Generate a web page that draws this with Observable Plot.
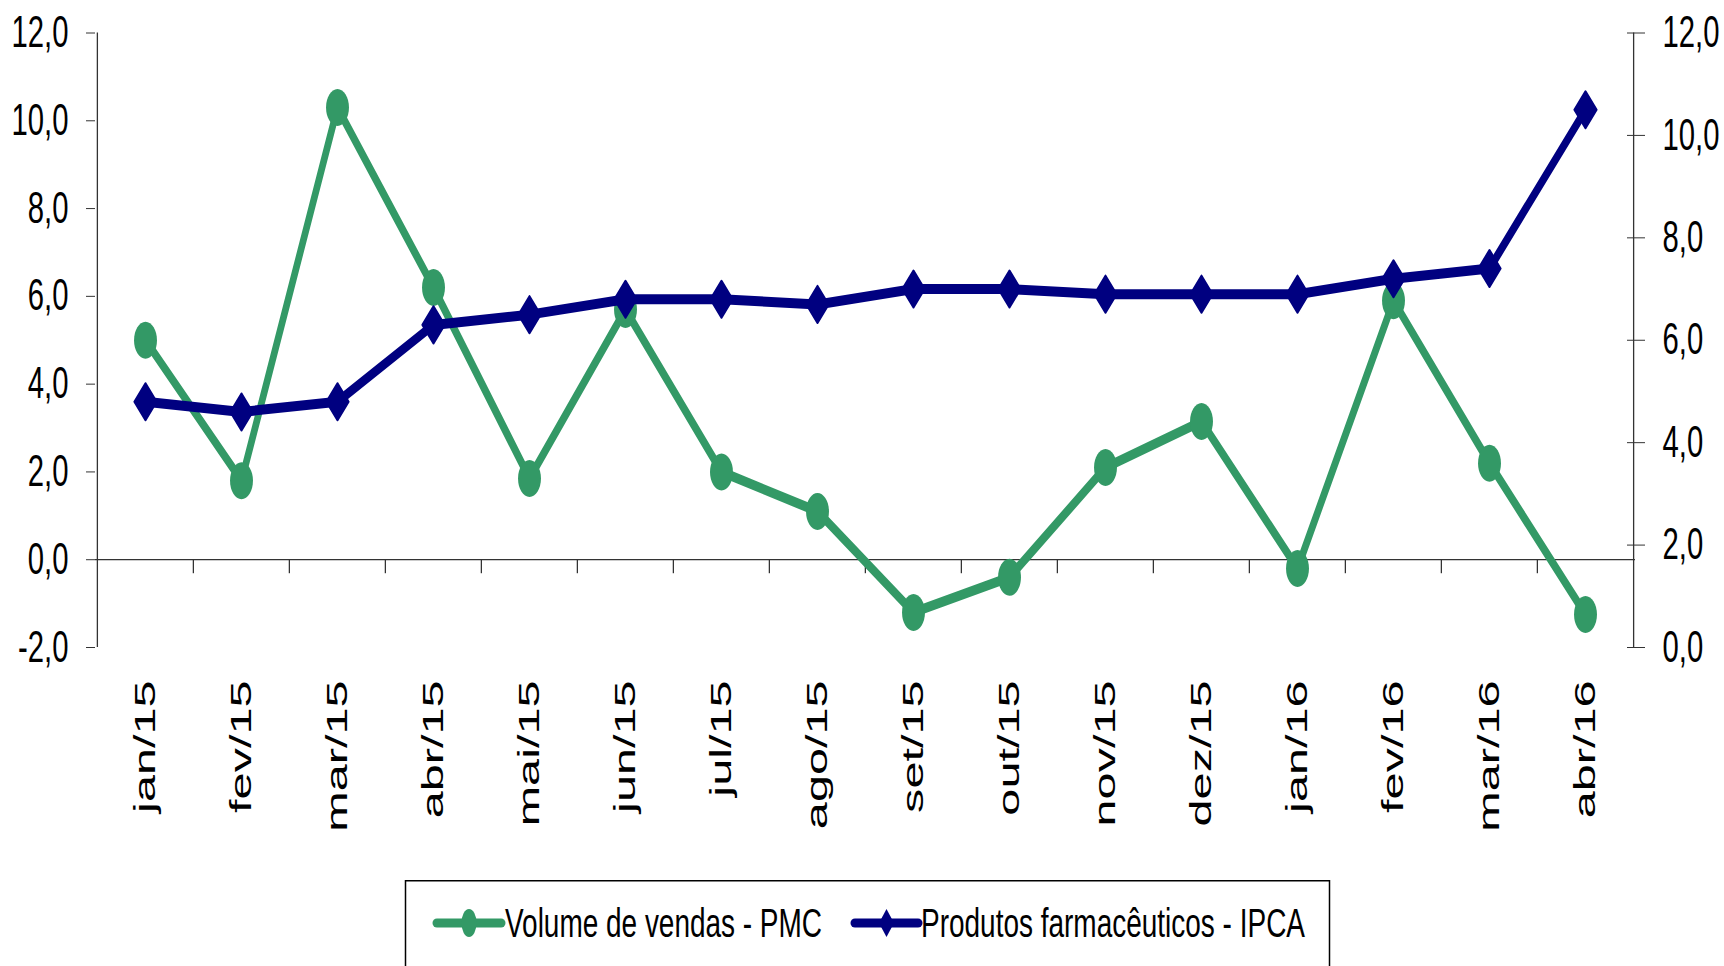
<!DOCTYPE html>
<html><head><meta charset="utf-8">
<script src="https://cdn.jsdelivr.net/npm/d3@7"></script>
<script src="https://cdn.jsdelivr.net/npm/@observablehq/plot@0.6"></script>
<style>
html,body{margin:0;padding:0;background:#fff;overflow:hidden;}
#chart svg,#legend svg{display:block;}
</style></head><body>
<div id="chart"></div>
<div id="legend"></div>
<script>
const months = ["jan/15","fev/15","mar/15","abr/15","mai/15","jun/15","jul/15","ago/15","set/15","out/15","nov/15","dez/15","jan/16","fev/16","mar/16","abr/16"];
const pmc  = [5.0, 1.8, 10.3, 6.2, 1.85, 5.7, 2.0, 1.1, -1.2, -0.4, 2.1, 3.15, -0.2, 5.9, 2.2, -1.25];
const ipca = [4.8, 4.6, 4.8, 6.3, 6.5, 6.8, 6.8, 6.7, 7.0, 7.0, 6.9, 6.9, 6.9, 7.2, 7.4, 10.5];
const leftTicks = [-2, 0, 2, 4, 6, 8, 10, 12];
const rightTicks = [0, 2, 4, 6, 8, 10, 12];
const seriesNames = ["Volume de vendas - PMC", "Produtos farmacêuticos - IPCA"];
const seriesColors = ["#339966", "#000080"];

const W = 1724, H = 880, ML = 95, MR = 89, MT = 32.5, MB = 233;
const bw = (W - ML - MR) / months.length;
const L0 = leftTicks[0], L1 = leftTicks[leftTicks.length - 1];
const R0 = rightTicks[0], R1 = rightTicks[rightTicks.length - 1];
const toLeft = v => L0 + (v - R0) * (L1 - L0) / (R1 - R0);
const toRight = v => R0 + (v - L0) * (R1 - R0) / (L1 - L0);
const fmt = v => (Math.round(v * 10) / 10).toFixed(1).replace(".", ",");

const pmcData = months.map((m, i) => ({m, v: pmc[i]}));
const ipcaData = months.map((m, i) => ({m, v: toLeft(ipca[i])}));

const KAP = 0.5523;
const ellipseSym = {draw(ctx, size) {
  const r = Math.sqrt(size / Math.PI), rx = r * 0.62, ry = r;
  ctx.moveTo(rx, 0);
  ctx.bezierCurveTo(rx, ry * KAP, rx * KAP, ry, 0, ry);
  ctx.bezierCurveTo(-rx * KAP, ry, -rx, ry * KAP, -rx, 0);
  ctx.bezierCurveTo(-rx, -ry * KAP, -rx * KAP, -ry, 0, -ry);
  ctx.bezierCurveTo(rx * KAP, -ry, rx, -ry * KAP, rx, 0);
  ctx.closePath();
}};
const diamondSym = {draw(ctx, size) {
  const r = Math.sqrt(size / Math.PI), rx = r * 0.6;
  ctx.moveTo(0, -r); ctx.lineTo(rx, 0); ctx.lineTo(0, r); ctx.lineTo(-rx, 0); ctx.closePath();
}};

const axisColor = "#333";
const plot = Plot.plot({
  width: W, height: H,
  marginLeft: ML, marginRight: MR, marginTop: MT, marginBottom: MB,
  style: {fontFamily: "'Liberation Sans', Arial, sans-serif", color: "#000", background: "#fff"},
  x: {type: "band", domain: months, padding: 0},
  y: {domain: [L0, L1]},
  marks: [
    Plot.ruleY([0], {stroke: axisColor, strokeWidth: 1.3}),
    Plot.ruleX(months.slice(1), {x: d => d, y1: 0, y2: 0, insetBottom: -14, dx: -bw / 2, stroke: axisColor, strokeWidth: 1.3}),
    Plot.ruleX([months[0]], {x: d => d, y1: L0, y2: L1, dx: -bw / 2, stroke: axisColor, strokeWidth: 1.3}),
    Plot.ruleX([months[months.length - 1]], {x: d => d, y1: L0, y2: L1, dx: bw / 2, stroke: axisColor, strokeWidth: 1.3}),
    Plot.axisY(leftTicks, {anchor: "left", tickSize: 9, tickPadding: 18, tickFormat: fmt, fontSize: 44, label: null, stroke: axisColor}),
    Plot.axisY(rightTicks.map(toLeft), {anchor: "right", tickSize: 9, tickPadding: 18, tickFormat: d => fmt(toRight(d)), fontSize: 44, label: null, stroke: axisColor}),
    Plot.axisY(rightTicks.map(toLeft), {anchor: "right", tickSize: 9, dx: -9, tickFormat: () => "", label: null, stroke: axisColor}),
    Plot.axisX({anchor: "bottom", tickSize: 0, tickPadding: 33, tickRotate: -90, fontSize: 30, label: null}),
    Plot.line(pmcData, {x: "m", y: "v", stroke: seriesColors[0], strokeWidth: 6.5, strokeLinejoin: "round", strokeLinecap: "round"}),
    Plot.dot(pmcData, {x: "m", y: "v", r: 18.5, symbol: ellipseSym, fill: seriesColors[0], stroke: "none"}),
    Plot.line(ipcaData, {x: "m", y: "v", stroke: seriesColors[1], strokeWidth: 6.5, strokeLinejoin: "round", strokeLinecap: "round"}),
    Plot.dot(ipcaData, {x: "m", y: "v", r: 18.5, symbol: diamondSym, fill: seriesColors[1], stroke: seriesColors[1], strokeWidth: 2, strokeLinejoin: "round"})
  ]
});
document.getElementById("chart").append(plot);

// Emulate the stretched look of the original: compressed y labels, stretched x labels
plot.querySelectorAll('g[aria-label="y-axis tick label"] text').forEach(t => {
  const L = t.getComputedTextLength();
  if (L > 0) { t.setAttribute("textLength", L * 0.665); t.setAttribute("lengthAdjust", "spacingAndGlyphs"); }
});
plot.querySelectorAll('g[aria-label="x-axis tick label"] text').forEach(t => {
  const L = t.getComputedTextLength();
  if (L > 0) { t.setAttribute("textLength", L * 1.62); t.setAttribute("lengthAdjust", "spacingAndGlyphs"); }
});
// Pen thicker vertically than horizontally (non-uniformly scaled original)
const KY = 10 / 6.5;
plot.querySelectorAll('g[aria-label="line"] path').forEach(p => {
  const d = p.getAttribute("d");
  p.setAttribute("d", d.replace(/(-?\d*\.?\d+(?:e[-+]?\d+)?),(-?\d*\.?\d+(?:e[-+]?\d+)?)/g, (m, x, y) => x + "," + (+y / KY)));
  p.setAttribute("transform", `scale(1,${KY})`);
});

// Legend
const lg = d3.select("#legend").append("svg").attr("width", W).attr("height", 86);
lg.append("rect").attr("x", 405.5).attr("y", 0.75).attr("width", 924).attr("height", 200)
  .attr("fill", "none").attr("stroke", "#000").attr("stroke-width", 1.5);
const entries = [
  {x0: 437, x1: 501, tx: 505, tw: 317, sym: "e"},
  {x0: 855, x1: 918, tx: 921, tw: 384, sym: "d"}
];
entries.forEach((e, i) => {
  const cy = 43, cx = (e.x0 + e.x1) / 2;
  lg.append("line").attr("x1", e.x0).attr("x2", e.x1).attr("y1", cy).attr("y2", cy)
    .attr("stroke", seriesColors[i]).attr("stroke-width", 9).attr("stroke-linecap", "round");
  if (e.sym === "e") {
    lg.append("ellipse").attr("cx", cx).attr("cy", cy).attr("rx", 7.5).attr("ry", 14).attr("fill", seriesColors[i]);
  } else {
    lg.append("path").attr("d", `M${cx},${cy - 14}L${cx + 7.5},${cy}L${cx},${cy + 14}L${cx - 7.5},${cy}Z`).attr("fill", seriesColors[i]);
  }
  lg.append("text").attr("x", e.tx).attr("y", 57).attr("font-size", 40)
    .attr("font-family", "'Liberation Sans', Arial, sans-serif").attr("fill", "#000")
    .attr("textLength", e.tw).attr("lengthAdjust", "spacingAndGlyphs").text(seriesNames[i]);
});
</script>
</body></html>
